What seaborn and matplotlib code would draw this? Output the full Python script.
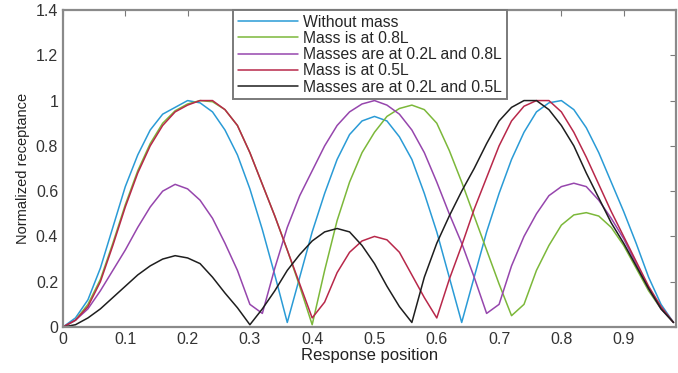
import matplotlib
matplotlib.use("Agg")
import matplotlib.pyplot as plt
import numpy as np
import pandas as pd
import seaborn as sns

# posiciones de respuesta (paso 0.02)
posicion = [round(0.02 * i, 2) for i in range(50)]

sin_masa = [0, 0.04, 0.12, 0.26, 0.44, 0.62, 0.76, 0.87, 0.94, 0.97,
            1.0, 0.99, 0.95, 0.87, 0.76, 0.61, 0.43, 0.23, 0.02, 0.22,
            0.42, 0.59, 0.74, 0.85, 0.91, 0.93, 0.91, 0.84, 0.74, 0.59,
            0.42, 0.22, 0.02, 0.22, 0.42, 0.59, 0.74, 0.86, 0.95, 0.99,
            1.0, 0.96, 0.88, 0.77, 0.64, 0.51, 0.37, 0.22, 0.10, 0.02]

masa_08 = [0, 0.03, 0.10, 0.21, 0.37, 0.54, 0.69, 0.81, 0.90, 0.955,
           0.985, 1.0, 0.995, 0.96, 0.89, 0.77, 0.63, 0.49, 0.34, 0.18,
           0.01, 0.25, 0.47, 0.64, 0.77, 0.86, 0.93, 0.965, 0.98, 0.96,
           0.90, 0.78, 0.64, 0.49, 0.34, 0.19, 0.05, 0.10, 0.25, 0.36,
           0.45, 0.495, 0.505, 0.49, 0.44, 0.36, 0.26, 0.16, 0.08, 0.02]

masas_02_08 = [0, 0.03, 0.08, 0.16, 0.25, 0.34, 0.44, 0.53, 0.60, 0.63,
               0.61, 0.56, 0.48, 0.37, 0.25, 0.10, 0.06, 0.26, 0.44, 0.58,
               0.69, 0.80, 0.89, 0.95, 0.985, 1.0, 0.98, 0.94, 0.87, 0.77,
               0.64, 0.50, 0.37, 0.22, 0.06, 0.10, 0.27, 0.40, 0.50, 0.58,
               0.62, 0.635, 0.62, 0.56, 0.48, 0.39, 0.28, 0.17, 0.08, 0.02]

masa_05 = [0, 0.03, 0.09, 0.20, 0.36, 0.53, 0.68, 0.80, 0.89, 0.95,
           0.98, 1.0, 1.0, 0.96, 0.89, 0.77, 0.63, 0.49, 0.34, 0.19,
           0.04, 0.11, 0.24, 0.33, 0.38, 0.40, 0.385, 0.33, 0.23, 0.13,
           0.04, 0.21, 0.36, 0.52, 0.66, 0.80, 0.91, 0.975, 1.0, 1.0,
           0.95, 0.86, 0.75, 0.63, 0.51, 0.40, 0.29, 0.18, 0.09, 0.02]

masas_02_05 = [0, 0.01, 0.04, 0.08, 0.13, 0.18, 0.23, 0.27, 0.30, 0.315,
               0.305, 0.28, 0.22, 0.15, 0.085, 0.01, 0.08, 0.16, 0.25, 0.32,
               0.38, 0.42, 0.435, 0.42, 0.36, 0.28, 0.18, 0.09, 0.02, 0.22,
               0.37, 0.49, 0.60, 0.70, 0.81, 0.91, 0.97, 1.0, 1.0, 0.96,
               0.89, 0.80, 0.68, 0.57, 0.46, 0.37, 0.27, 0.17, 0.08, 0.02]

nombres = ["Without mass", "Mass is at 0.8L", "Masses are at 0.2L and 0.8L",
           "Mass is at 0.5L", "Masses are at 0.2L and 0.5L"]
series = [sin_masa, masa_08, masas_02_08, masa_05, masas_02_05]
colores = ["#2a9bd6", "#7cb83a", "#9646ad", "#b8284a", "#1e1e1e"]

# datos en formato largo para seaborn
filas = []
for nombre, valores in zip(nombres, series):
    for x, y in zip(posicion, valores):
        filas.append({"pos": x, "val": y, "caso": nombre})
data = pd.DataFrame(filas)

sns.set_style("white")
plt.rcParams["font.family"] = ["Liberation Sans", "DejaVu Sans"]

fig = plt.figure(figsize=(6.78, 3.73), dpi=100)
ax = fig.add_axes([63 / 678, 1 - 327 / 373, 613 / 678, 317 / 373])

sns.lineplot(data=data, x="pos", y="val", hue="caso", hue_order=nombres,
             palette=colores, linewidth=1.1, ax=ax, sort=False,
             estimator=None)

ax.set_xlim(0, 0.984)
ax.set_ylim(0, 1.4)
ax.set_xticks([0, 0.1, 0.2, 0.3, 0.4, 0.5, 0.6, 0.7, 0.8, 0.9])
ax.set_xticklabels(["0", "0.1", "0.2", "0.3", "0.4", "0.5", "0.6", "0.7", "0.8", "0.9"])
ax.set_yticks([0, 0.2, 0.4, 0.6, 0.8, 1.0, 1.2, 1.4])
ax.set_yticklabels(["0", "0.2", "0.4", "0.6", "0.8", "1", "1.2", "1.4"])

ax.tick_params(direction="in", length=4, width=0.8, colors="#7a7a7a",
               labelcolor="#333333", labelsize=11.5, top=True, right=True)
for lado in ax.spines.values():
    lado.set_color("#8a8a8a")
    lado.set_linewidth(1.6)

ax.set_xlabel("Response position", fontsize=12, color="#222222", labelpad=1)
ax.set_ylabel("Normalized receptance", fontsize=10.5, color="#222222", labelpad=4)

leg = ax.legend(loc="upper left", bbox_to_anchor=((233 - 63) / 613, 1.0),
                fontsize=11.3, frameon=True, fancybox=False, framealpha=1,
                edgecolor="#7a7a7a", borderpad=0.3, labelspacing=0.08,
                handlelength=3.85, handletextpad=0.32, borderaxespad=0)
leg.get_frame().set_linewidth(1.4)

fig.savefig("out.png", dpi=100)
